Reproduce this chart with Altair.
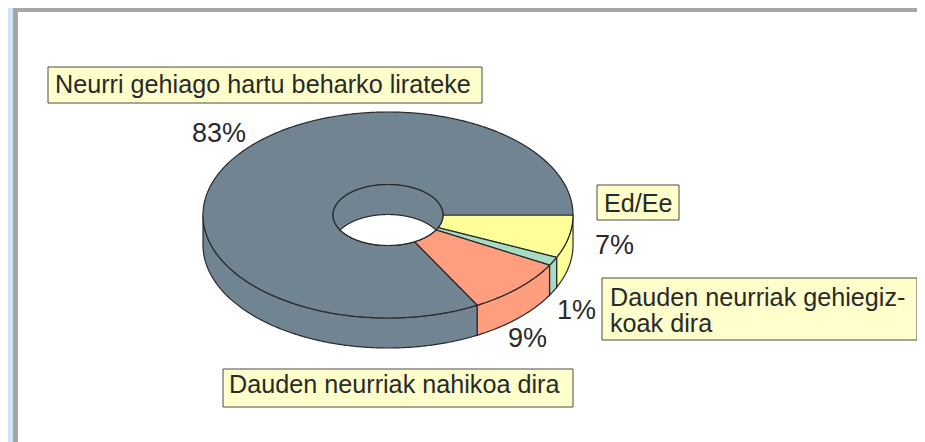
import numpy as np
import pandas as pd
import altair as alt

categories = ["Ed/Ee", "Dauden neurriak gehiegizkoak dira", "Dauden neurriak nahikoa dira", "Neurri gehiago hartu beharko lirateke"]
shares = [6.75, 1.35, 8.9, 83.0]
percent_labels = ["7%", "1%", "9%", "83%"]
colors = ["#FFFF99", "#A6DCC6", "#FF9E7E", "#708491"]

M = 8  # page margin
W, H = 925 - M, 442  # right edge of the drawing area, bottom edge
CX, CY, RX, RY, DEPTH = 388, 215, 185, 103, 30
HX, HY = 55, 30.5
INK = "#2A2A2A"
TXT = "#2A2A2A"
FONT = "Liberation Sans"

X = alt.X("x:Q", scale=alt.Scale(domain=[M, W]), axis=None)
Y = alt.Y("y:Q", scale=alt.Scale(domain=[H, M]), axis=None)


def arc(a0, a1, rx, ry, dy=0):
    t = np.radians(np.linspace(a0, a1, max(3, int(abs(a1 - a0)) * 2)))
    return np.c_[CX + rx * np.cos(t), CY + dy + ry * np.sin(t)]


def poly(points, fill, stroke=INK):
    pts = np.vstack(points)
    pts = np.vstack([pts, pts[:1]])
    df = pd.DataFrame({"x": pts[:, 0], "y": pts[:, 1], "i": range(len(pts))})
    return alt.Chart(df).mark_line(fill=fill, stroke=stroke, strokeWidth=1.2, clip=False).encode(X, Y, order="i:Q")


def box(x0, y0, x1, y1, fill, stroke=None):
    kw = {"stroke": stroke, "strokeWidth": 1} if stroke else {"strokeWidth": 0}
    return alt.Chart(pd.DataFrame({"k": [0]})).mark_rect(fill=fill, **kw).encode(
        x=alt.value(max(x0 - M, 0)), x2=alt.value(x1 - M), y=alt.value(max(y0 - M, 0)), y2=alt.value(y1 - M))


def label(txt, x, y, size=25.2):
    return alt.Chart(pd.DataFrame({"k": [0]})).mark_text(
        align="left", baseline="alphabetic", font=FONT, fontSize=size, color=TXT
    ).encode(x=alt.value(x - M), y=alt.value(y - M), text=alt.value(txt))


layers = [
    box(M, M, W, H, "#FFFFFF"),
    box(M, M, 13, H, "#CFE5F5"),
    box(13, 8, W, 12, "#A6A6A4"),
    box(13, 8, 18, H, "#A6A6A4"),
]

# slice boundaries in degrees, clockwise from the right
edges = np.cumsum([0] + [s * 3.6 for s in shares])

# outer wall, front half only
for a0, a1, c in zip(edges[:-1], edges[1:], colors):
    a1v = min(a1, 180)
    if a0 < 180:
        layers.append(poly([arc(a0, a1v, RX, RY), arc(a1v, a0, RX, RY, DEPTH)], c))

# top faces
for a0, a1, c in zip(edges[:-1], edges[1:], colors):
    layers.append(poly([arc(a0, a1, RX, RY), arc(a1, a0, HX, HY)], c))

# inner wall of the hole and the see-through part
layers.append(poly([arc(0, 360, HX, HY)], colors[3]))
lens_a = np.degrees(np.arcsin((DEPTH / 2) / HY))
layers.append(poly([arc(lens_a, 180 - lens_a, HX, HY),
                    arc(180 + lens_a, 360 - lens_a, HX, HY, DEPTH)], "#FFFFFF"))

# label boxes
BOX = "#FFFFCC"
EDGE = "#4A4A42"
layers += [
    box(48, 67, 482, 103, BOX, EDGE),
    box(597, 185, 679, 220, BOX, EDGE),
    box(602, 278, 917, 340, BOX, EDGE),
    box(223, 369, 573, 407, BOX, EDGE),
    label(categories[3], 55, 93),
    label(categories[0], 604, 212),
    label("Dauden neurriak gehiegiz-", 610, 306),
    label("koak dira", 610, 332),
    label(categories[2], 229, 393),
    label(percent_labels[3], 192, 142, 27),
    label(percent_labels[0], 595, 254, 27),
    label(percent_labels[1], 557, 319, 27),
    label(percent_labels[2], 508, 347, 27),
]

chart = alt.layer(*layers).properties(
    width=W - M, height=H - M, padding=0, autosize=alt.AutoSizeParams(type="none"),
    background="#FFFFFF",
).configure_view(strokeWidth=0)

chart.save("out.html", embed_options={"renderer": "svg", "actions": False})
